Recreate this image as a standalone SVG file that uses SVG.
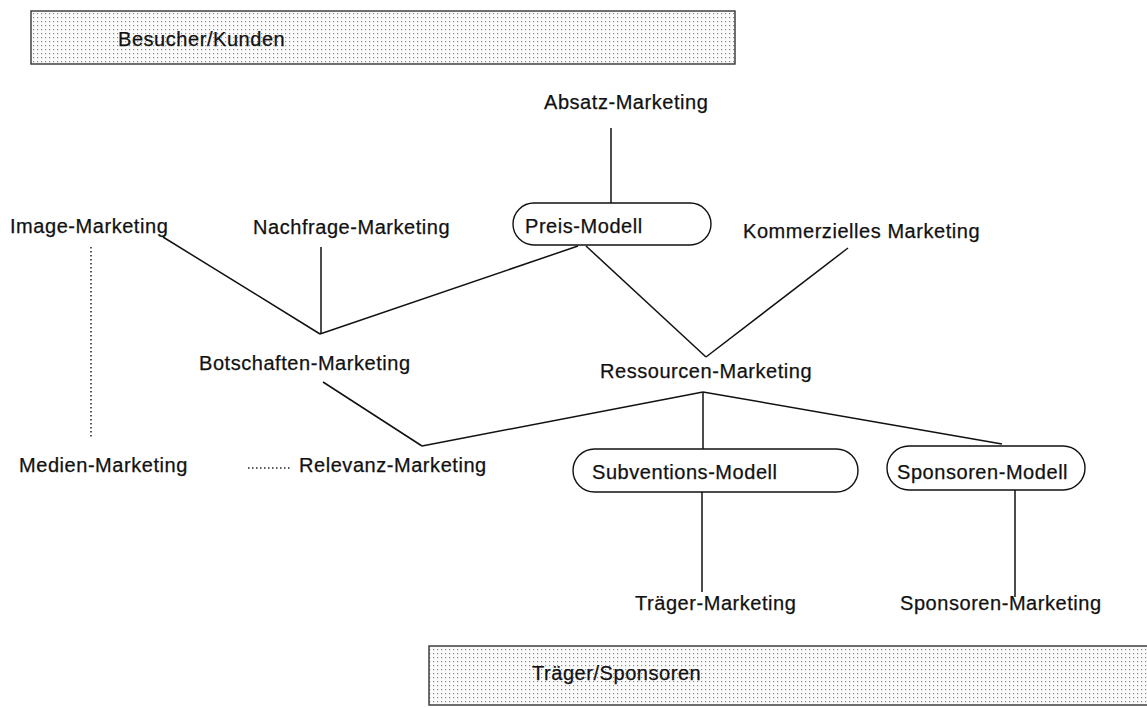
<svg xmlns="http://www.w3.org/2000/svg" width="1147" height="708" viewBox="0 0 1147 708">
<style>
text{font-family:"Liberation Sans",Arial,sans-serif;font-size:20px;fill:#111;letter-spacing:0.55px;stroke:#111;stroke-width:0.25}
.ln{stroke:#111;stroke-width:1.5;fill:none}
.dot{stroke:#222;stroke-width:1.5;fill:none;stroke-dasharray:1.5 2.5}
.cap{fill:#fff;stroke:#111;stroke-width:1.4}
.band{fill:url(#dots);stroke:#333;stroke-width:1.4}
</style>
<defs>
<pattern id="dots" width="4" height="4" patternUnits="userSpaceOnUse">
<rect width="4" height="4" fill="#fbfbfb"/>
<rect x="1" y="1" width="1.2" height="1.2" fill="#888"/>
</pattern>
</defs>
<rect width="1147" height="708" fill="#fff"/>
<g id="connectors">
<line class="ln" x1="611" y1="128" x2="611" y2="203"/>
<line class="ln" x1="163" y1="237" x2="320" y2="334"/>
<line class="ln" x1="321" y1="247" x2="321" y2="334"/>
<line class="ln" x1="320" y1="334" x2="578" y2="246"/>
<line class="ln" x1="586" y1="246" x2="706" y2="357"/>
<line class="ln" x1="848" y1="248" x2="706" y2="357"/>
<line class="ln" x1="323" y1="382" x2="422" y2="446"/>
<line class="ln" x1="422" y1="446" x2="703" y2="392"/>
<line class="ln" x1="703" y1="392" x2="703" y2="449"/>
<line class="ln" x1="703" y1="392" x2="1002" y2="444"/>
<line class="ln" x1="702" y1="492" x2="702" y2="592"/>
<line class="ln" x1="1015" y1="490" x2="1015" y2="597"/>
<line class="dot" x1="91" y1="247" x2="91" y2="437"/>
<line class="dot" x1="248" y1="468" x2="291" y2="468"/>
</g>
<g id="besucher">
<rect class="band" x="31" y="11" width="704" height="53"/>
<text x="118" y="46">Besucher/Kunden</text>
</g>
<g id="traeger-band">
<rect class="band" x="429" y="646" width="723" height="59"/>
<text x="532" y="680">Träger/Sponsoren</text>
</g>
<g id="absatz"><text x="544" y="109">Absatz-Marketing</text></g>
<g id="preis"><rect class="cap" x="513" y="203" width="198" height="42" rx="21"/><text x="525" y="233">Preis-Modell</text></g>
<g id="image"><text x="10" y="233">Image-Marketing</text></g>
<g id="nachfrage"><text x="253" y="234">Nachfrage-Marketing</text></g>
<g id="kommerziell"><text x="743" y="238">Kommerzielles Marketing</text></g>
<g id="botschaften"><text x="199" y="370">Botschaften-Marketing</text></g>
<g id="ressourcen"><text x="600" y="378">Ressourcen-Marketing</text></g>
<g id="medien"><text x="19" y="472">Medien-Marketing</text></g>
<g id="relevanz"><text x="299" y="472">Relevanz-Marketing</text></g>
<g id="subventionen"><rect class="cap" x="573" y="449" width="285" height="43" rx="21.5"/><text x="592" y="479">Subventions-Modell</text></g>
<g id="sponsorenmodell"><rect class="cap" x="887" y="446" width="198" height="44" rx="22"/><text x="897" y="479">Sponsoren-Modell</text></g>
<g id="traeger"><text x="635" y="610">Träger-Marketing</text></g>
<g id="sponsorenmarketing"><text x="900" y="610">Sponsoren-Marketing</text></g>
</svg>
